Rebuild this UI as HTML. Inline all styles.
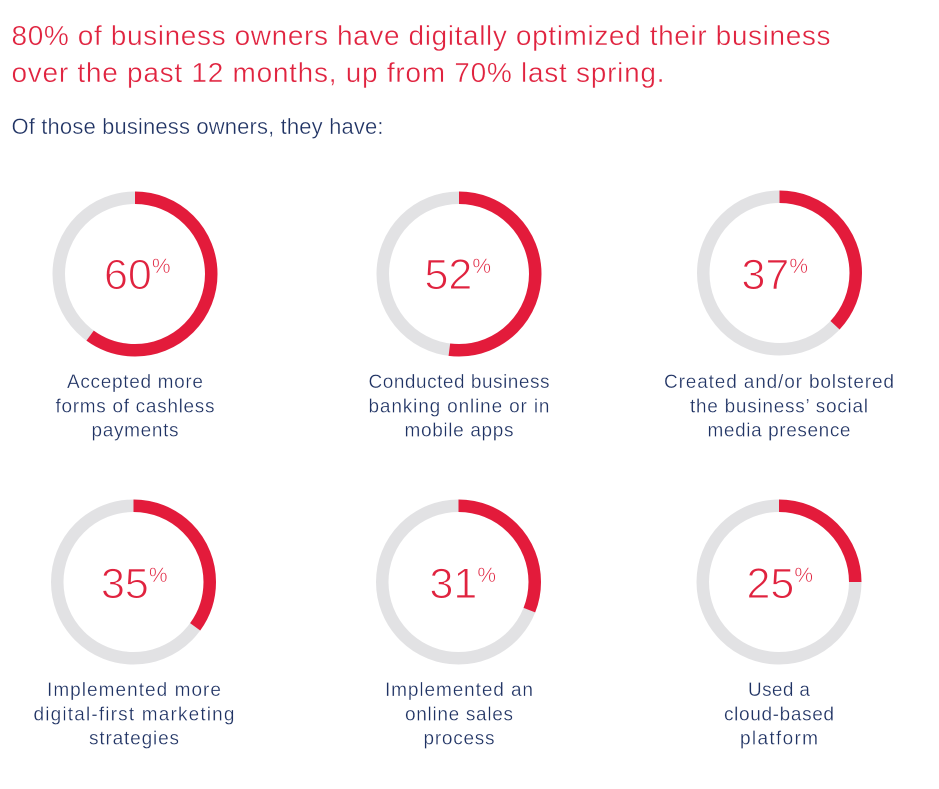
<!DOCTYPE html>
<html>
<head>
<meta charset="utf-8">
<style>
  html, body { margin:0; padding:0; background:#ffffff; }
  svg { display:block; }
  .title { font-family:"Liberation Sans", sans-serif; font-size:28px; fill:#e0233f; stroke:#ffffff; stroke-width:0.4px; }
  .sub { font-family:"Liberation Sans", sans-serif; font-size:22px; fill:#1f3263; stroke:#ffffff; stroke-width:0.35px; }
  .lab { font-family:"Liberation Sans", sans-serif; font-size:19px; fill:#1f3263; stroke:#ffffff; stroke-width:0.3px; }
  .num { font-family:"Liberation Sans", sans-serif; font-size:43px; fill:#e0233f; stroke:#ffffff; stroke-width:1px; }
  .pct { font-size:21px; stroke-width:0.5px; }
</style>
</head>
<body>
<svg width="939" height="789" viewBox="0 0 939 789" xmlns="http://www.w3.org/2000/svg">
  <rect width="939" height="789" fill="#ffffff"/>

  <text class="title" x="11.5" y="45" textLength="819" lengthAdjust="spacing">80% of business owners have digitally optimized their business</text>
  <text class="title" x="11.5" y="82" textLength="653" lengthAdjust="spacing">over the past 12 months, up from 70% last spring.</text>
  <text class="sub" x="11.5" y="134" textLength="372" lengthAdjust="spacing">Of those business owners, they have:</text>

  <!-- Row 1 -->
  <g>
    <circle cx="135" cy="274" r="76.25" fill="none" stroke="#e2e2e4" stroke-width="12.5"/>
    <circle cx="135" cy="274" r="76.25" fill="none" stroke="#e31b3b" stroke-width="12.5"
      stroke-dasharray="287.45 479.09" transform="rotate(-90 135 274)"/>
    <text class="num" x="104" y="289">60<tspan class="pct" dy="-16">%</tspan></text>
    <text class="lab" x="135" y="388" text-anchor="middle" textLength="136" lengthAdjust="spacing">Accepted more</text>
    <text class="lab" x="135" y="412.3" text-anchor="middle" textLength="159" lengthAdjust="spacing">forms of cashless</text>
    <text class="lab" x="135" y="436.7" text-anchor="middle" textLength="87" lengthAdjust="spacing">payments</text>
  </g>
  <g>
    <circle cx="459" cy="274" r="76.25" fill="none" stroke="#e2e2e4" stroke-width="12.5"/>
    <circle cx="459" cy="274" r="76.25" fill="none" stroke="#e31b3b" stroke-width="12.5"
      stroke-dasharray="249.13 479.09" transform="rotate(-90 459 274)"/>
    <text class="num" x="424.5" y="289">52<tspan class="pct" dy="-16">%</tspan></text>
    <text class="lab" x="459" y="388" text-anchor="middle" textLength="181" lengthAdjust="spacing">Conducted business</text>
    <text class="lab" x="459" y="412.3" text-anchor="middle" textLength="181" lengthAdjust="spacing">banking online or in</text>
    <text class="lab" x="459" y="436.7" text-anchor="middle" textLength="109" lengthAdjust="spacing">mobile apps</text>
  </g>
  <g>
    <circle cx="779.5" cy="273" r="76.25" fill="none" stroke="#e2e2e4" stroke-width="12.5"/>
    <circle cx="779.5" cy="273" r="76.25" fill="none" stroke="#e31b3b" stroke-width="12.5"
      stroke-dasharray="177.26 479.09" transform="rotate(-90 779.5 273)"/>
    <text class="num" x="741.5" y="289">37<tspan class="pct" dy="-16">%</tspan></text>
    <text class="lab" x="779" y="388" text-anchor="middle" textLength="230" lengthAdjust="spacing">Created and/or bolstered</text>
    <text class="lab" x="779" y="412.3" text-anchor="middle" textLength="178" lengthAdjust="spacing">the business’ social</text>
    <text class="lab" x="779" y="436.7" text-anchor="middle" textLength="143" lengthAdjust="spacing">media presence</text>
  </g>

  <!-- Row 2 -->
  <g>
    <circle cx="133.5" cy="582" r="76.25" fill="none" stroke="#e2e2e4" stroke-width="12.5"/>
    <circle cx="133.5" cy="582" r="76.25" fill="none" stroke="#e31b3b" stroke-width="12.5"
      stroke-dasharray="167.68 479.09" transform="rotate(-90 133.5 582)"/>
    <text class="num" x="101" y="598">35<tspan class="pct" dy="-16">%</tspan></text>
    <text class="lab" x="134" y="696" text-anchor="middle" textLength="174" lengthAdjust="spacing">Implemented more</text>
    <text class="lab" x="134" y="720.3" text-anchor="middle" textLength="201" lengthAdjust="spacing">digital-first marketing</text>
    <text class="lab" x="134" y="744.7" text-anchor="middle" textLength="90" lengthAdjust="spacing">strategies</text>
  </g>
  <g>
    <circle cx="458.5" cy="582" r="76.25" fill="none" stroke="#e2e2e4" stroke-width="12.5"/>
    <circle cx="458.5" cy="582" r="76.25" fill="none" stroke="#e31b3b" stroke-width="12.5"
      stroke-dasharray="148.52 479.09" transform="rotate(-90 458.5 582)"/>
    <text class="num" x="429.5" y="598">31<tspan class="pct" dy="-16">%</tspan></text>
    <text class="lab" x="459" y="696" text-anchor="middle" textLength="148" lengthAdjust="spacing">Implemented an</text>
    <text class="lab" x="459" y="720.3" text-anchor="middle" textLength="108" lengthAdjust="spacing">online sales</text>
    <text class="lab" x="459" y="744.7" text-anchor="middle" textLength="71" lengthAdjust="spacing">process</text>
  </g>
  <g>
    <circle cx="779" cy="582" r="76.25" fill="none" stroke="#e2e2e4" stroke-width="12.5"/>
    <circle cx="779" cy="582" r="76.25" fill="none" stroke="#e31b3b" stroke-width="12.5"
      stroke-dasharray="119.77 479.09" transform="rotate(-90 779 582)"/>
    <text class="num" x="746.5" y="598">25<tspan class="pct" dy="-16">%</tspan></text>
    <text class="lab" x="779" y="696" text-anchor="middle" textLength="62" lengthAdjust="spacing">Used a</text>
    <text class="lab" x="779" y="720.3" text-anchor="middle" textLength="110" lengthAdjust="spacing">cloud-based</text>
    <text class="lab" x="779" y="744.7" text-anchor="middle" textLength="78" lengthAdjust="spacing">platform</text>
  </g>
</svg>
</body>
</html>
